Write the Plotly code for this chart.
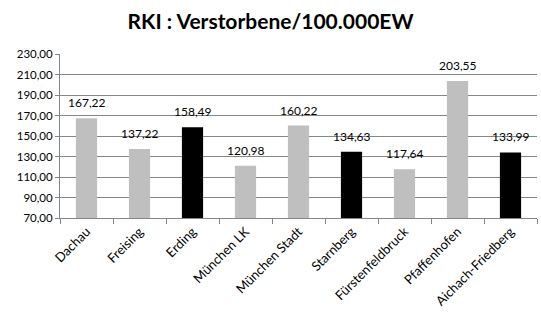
import plotly.graph_objects as go

categories = ["Dachau", "Freising", "Erding", "München LK", "München Stadt",
              "Starnberg", "Fürstenfeldbruck", "Pfaffenhofen", "Aichach-Friedberg"]
values = [167.22, 137.22, 158.49, 120.98, 160.22, 134.63, 117.64, 203.55, 133.99]
bar_colors = ["#bfbfbf", "#bfbfbf", "#000000", "#bfbfbf", "#bfbfbf",
              "#000000", "#bfbfbf", "#bfbfbf", "#000000"]
y_ticks = [70, 90, 110, 130, 150, 170, 190, 210, 230]

font = "Lato, 'Open Sans', sans-serif"

fig = go.Figure(go.Bar(
    x=categories, y=values,
    marker=dict(color=bar_colors, line=dict(width=0)),
    width=0.4,
    cliponaxis=False,
))

for c, v in zip(categories, values):
    fig.add_annotation(
        x=c, y=v, text=f"{v:.2f}".replace(".", ","),
        showarrow=False, yanchor="bottom", yshift=6,
        font=dict(family=font, size=12, color="#000000"),
    )

fig.update_layout(
    width=541, height=317,
    margin=dict(l=60, r=4, t=54, b=99),
    paper_bgcolor="white", plot_bgcolor="white",
    separators=",.",
    showlegend=False,
    title=dict(text="<b>RKI : Verstorbene/100.000EW</b>", x=0.5, xanchor="center",
               y=1 - 22 / 317, yanchor="middle",
               font=dict(family=font, size=21, color="#000000")),
    font=dict(family=font, size=11, color="#000000"),
    bargap=0.6,
)
fig.update_yaxes(
    range=[70, 230], tickvals=y_ticks, tickformat=".2f",
    showgrid=True, gridcolor="#868686", gridwidth=1,
    showline=True, linecolor="#868686", linewidth=1,
    ticks="outside", ticklen=4, tickcolor="#868686",
    tickfont=dict(family=font, size=11.5, color="#000000"),
    zeroline=False,
)
fig.update_xaxes(
    tickangle=-45, tickson="boundaries",
    showline=True, linecolor="#868686", linewidth=1,
    ticks="outside", ticklen=5, tickcolor="#868686",
    tickfont=dict(family=font, size=13, color="#000000"),
    showgrid=False,
)

fig.write_html("out.html")
